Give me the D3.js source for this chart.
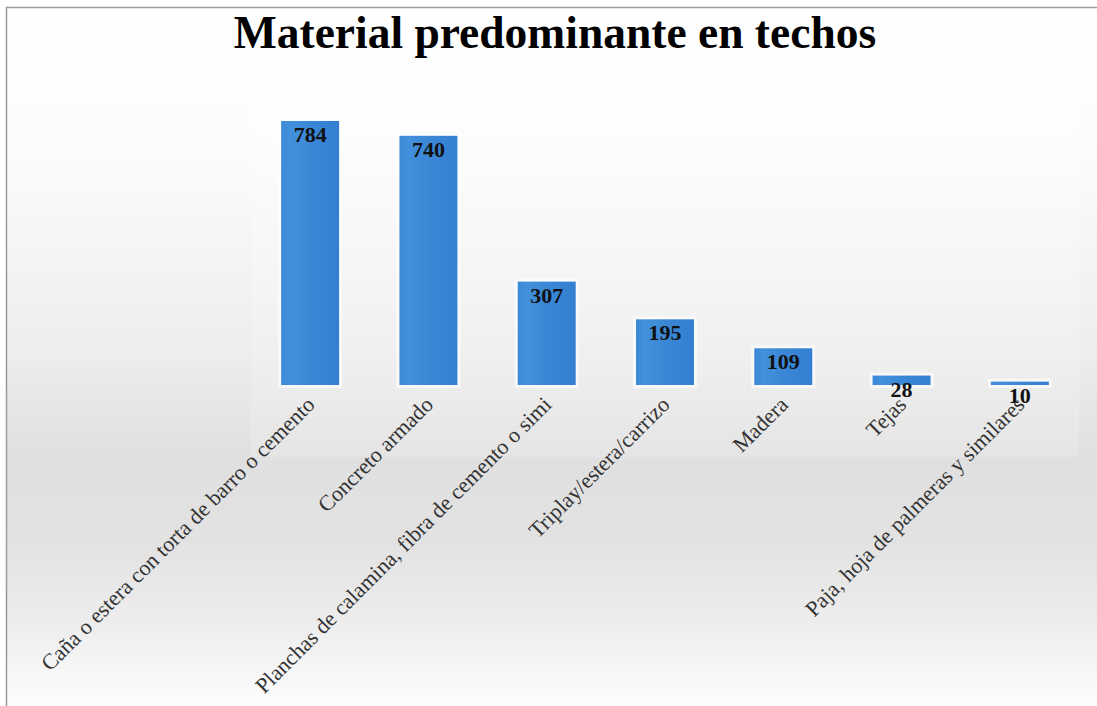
<!DOCTYPE html>
<html>
<head>
<meta charset="utf-8">
<script src="https://cdn.jsdelivr.net/npm/d3@7"></script>
<style>
  html, body { margin: 0; padding: 0; background: #fff; }
  svg { display: block; }
</style>
</head>
<body>
<svg id="chart" width="1097" height="706"></svg>
<script>
// Roof material counts
const categories = [
  "Caña o estera con torta de barro o cemento",
  "Concreto armado",
  "Planchas de calamina, fibra de cemento o simi",
  "Triplay/estera/carrizo",
  "Madera",
  "Tejas",
  "Paja, hoja de palmeras y similares"
];
const values = [784, 740, 307, 195, 109, 28, 10];
const title = "Material predominante en techos";

const W = 1097, H = 706;
const svg = d3.select("#chart");
const defs = svg.append("defs");

// chart background: white top, grey band in the middle, white bottom
const bg = defs.append("linearGradient").attr("id", "bgGrad")
  .attr("x1", 0).attr("y1", 0).attr("x2", 0).attr("y2", 1);
[[0, "#ffffff"], [0.2, "#fcfcfc"], [0.5, "#ededed"], [0.64, "#e0e0e0"],
 [0.76, "#e2e2e2"], [0.88, "#ededed"], [1, "#fdfdfd"]]
  .forEach(([o, c]) => bg.append("stop").attr("offset", o).attr("stop-color", c));

const pg = defs.append("linearGradient").attr("id", "plotGrad")
  .attr("x1", 0).attr("y1", 0).attr("x2", 0).attr("y2", 1);
[[0, "#ffffff"], [0.5, "#f8f8f8"], [1, "#ebebeb"]]
  .forEach(([o, c]) => pg.append("stop").attr("offset", o).attr("stop-color", c));

const barGrad = defs.append("linearGradient").attr("id", "barGrad")
  .attr("x1", 0).attr("y1", 0).attr("x2", 1).attr("y2", 0);
[[0, "#3b89d8"], [0.15, "#4390dc"], [0.5, "#3a87d6"], [1, "#3380d2"]]
  .forEach(([o, c]) => barGrad.append("stop").attr("offset", o).attr("stop-color", c));

svg.append("rect").attr("x", 6).attr("y", 7).attr("width", W - 6).attr("height", H - 7)
  .attr("fill", "url(#bgGrad)");

// plot area
const x0 = 251, x1 = 1079, baseY = 385;
svg.append("rect").attr("x", x0).attr("y", 100).attr("width", x1 - x0).attr("height", 357)
  .attr("fill", "url(#plotGrad)").attr("opacity", 0.45);

// frame lines (top and left)
svg.append("path").attr("d", `M6.5,${H}V7.5H${W}`)
  .attr("fill", "none").attr("stroke", "#9a9a9a").attr("stroke-width", 1.5);

// title
svg.append("text")
  .attr("x", 555).attr("y", 48)
  .attr("text-anchor", "middle")
  .attr("font-family", "'Liberation Serif', 'Times New Roman', serif")
  .attr("font-weight", "bold")
  .attr("font-size", 45.5)
  .attr("fill", "#000")
  .text(title);

const x = d3.scaleBand().domain(categories).range([x0, x1])
  .paddingInner(0.51).paddingOuter(0.255);
const y = d3.scaleLinear().domain([0, 800]).range([baseY, baseY - 269.4]);

const data = categories.map((c, i) => ({ c, v: values[i] }));

// soft halo behind bars
svg.append("g").selectAll("rect").data(data).join("rect")
  .attr("x", d => x(d.c) - 3)
  .attr("y", d => y(d.v) - 3)
  .attr("width", x.bandwidth() + 6)
  .attr("height", d => y(0) - y(d.v) + 6)
  .attr("fill", "#ffffff").attr("opacity", 0.6);

svg.append("g").selectAll("rect").data(data).join("rect")
  .attr("x", d => x(d.c))
  .attr("y", d => y(d.v))
  .attr("width", x.bandwidth())
  .attr("height", d => Math.max(1.5, y(0) - y(d.v)))
  .attr("fill", "url(#barGrad)");

// value labels at the inside end of each bar
svg.append("g").selectAll("text").data(data).join("text")
  .attr("x", d => x(d.c) + x.bandwidth() / 2)
  .attr("y", d => y(d.v) + 21)
  .attr("text-anchor", "middle")
  .attr("font-family", "'Liberation Serif', 'Times New Roman', serif")
  .attr("font-weight", "bold")
  .attr("font-size", 22)
  .attr("fill", "#111")
  .text(d => d.v);

// category axis with rotated labels
const axis = svg.append("g")
  .attr("transform", `translate(0,${baseY})`)
  .call(d3.axisBottom(x).tickSize(0).tickPadding(0));
axis.select(".domain").remove();
axis.selectAll("text")
  .attr("x", 0).attr("y", 0).attr("dy", 0)
  .attr("text-anchor", "end")
  .attr("transform", "translate(6,21) rotate(-45)")
  .attr("font-family", "'Liberation Serif', 'Times New Roman', serif")
  .attr("font-size", 22)
  .attr("fill", "#333");
</script>
</body>
</html>
